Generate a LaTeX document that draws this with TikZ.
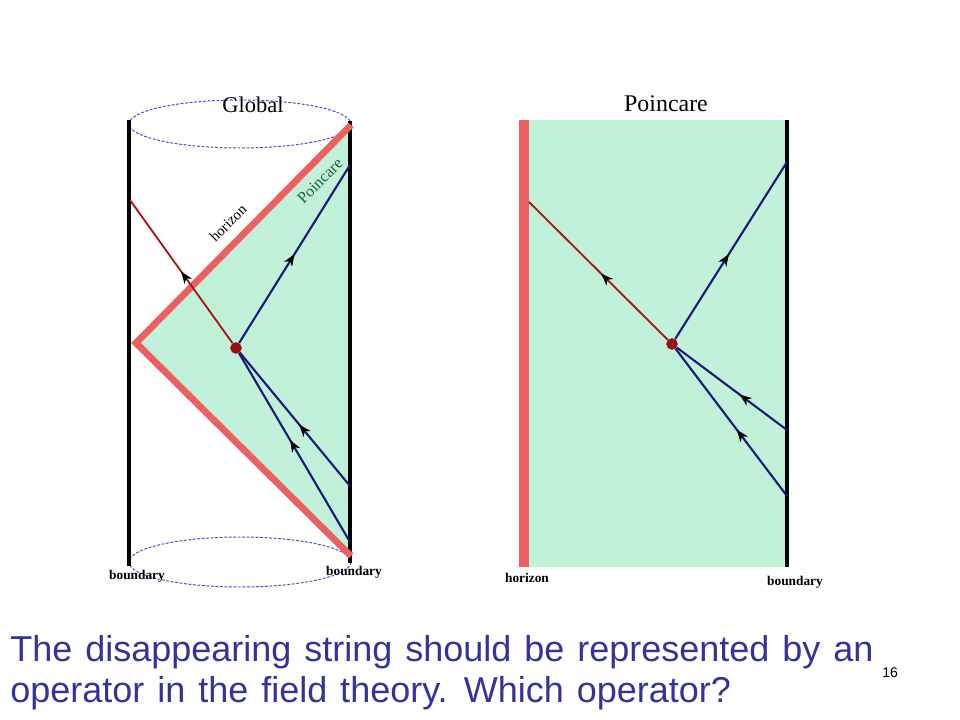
\documentclass[tikz,border=0pt]{standalone}
\usepackage{fontspec}
\setmainfont{Liberation Serif}
\setsansfont{Liberation Sans}
\usetikzlibrary{arrows.meta,decorations.markings}

\definecolor{mint}{RGB}{193,241,216}
\definecolor{horizonred}{RGB}{236,96,96}
\definecolor{stringred}{RGB}{168,20,20}
\definecolor{stringblue}{RGB}{25,25,120}
\definecolor{rimblue}{RGB}{70,70,215}
\definecolor{slideblue}{RGB}{51,51,153}
\definecolor{labelgreen}{RGB}{30,100,55}

\tikzset{
  strand/.style={line width=1.5pt,draw=#1},
  midarrow/.style={postaction={decorate},
    decoration={markings,mark=at position #1 with {\arrow[black]{Stealth[length=8.5pt,width=6.5pt,inset=2.5pt]}}}},
  joint/.style={circle,fill=stringred!90!black,inner sep=0pt,minimum size=8pt},
  rim/.style={draw=rimblue,dashed,line width=0.7pt,dash pattern=on 2pt off 1.2pt},
  tag/.style={font=\fontsize{9.5}{10}\selectfont\bfseries},
  slide/.style={anchor=base west,text=slideblue,inner sep=0pt,
    font=\sffamily\fontsize{25.6}{29}\selectfont,
    execute at begin node={\spaceskip=0.36em\relax}},
}

\begin{document}
\begin{tikzpicture}[x=0.025cm,y=-0.025cm]
\useasboundingbox (0,0) rectangle (960,720);
\coordinate (gl-top) at (129,120);
\coordinate (gl-bot) at (129,566);
\coordinate (gr-top) at (350,121);
\coordinate (gr-bot) at (350,563);
\coordinate (h-top) at (351,125);
\coordinate (h-tip) at (136,343);
\coordinate (h-bot) at (351,556);
\coordinate (g-red) at (130,200);
\coordinate (g-up) at (350,165);
\coordinate (g-in1) at (350,486);
\coordinate (g-in2) at (350,542);

% the mint Poincare patch
\fill[mint] (h-top) -- (h-tip) -- (h-bot) -- cycle;
% the two rims of the cylinder
\draw[rim] (240,124) ellipse [x radius=111,y radius=24];
\draw[rim] (240,562) ellipse [x radius=111,y radius=25];
% the boundaries
\draw[line width=2.8pt] (gl-top) -- (gl-bot);
\draw[line width=2.8pt] (gr-top) -- (gr-bot);
% the horizon
\draw[horizonred,line width=4.8pt,line join=miter] (h-top) -- (h-tip) -- (h-bot);
% the strings
\node[joint] (gdot) at (236,348) {};
\draw[strand=stringred,line width=1.3pt,midarrow=0.5] (gdot) -- (g-red);
\draw[strand=stringblue,midarrow=0.5] (gdot) -- (g-up);
\draw[strand=stringblue,midarrow=0.46] (g-in1) -- (gdot);
\draw[strand=stringblue,midarrow=0.54] (g-in2) -- (gdot);
\node[joint] at (gdot) {};

\coordinate (p-red) at (529,202);
\coordinate (p-up) at (787,162);
\coordinate (p-in1) at (787,430);
\coordinate (p-in2) at (787,496);

% the Poincare strip
\fill[mint] (524,120) rectangle (787,567);
\fill[horizonred] (519,120) rectangle (529,567);
\draw[line width=2.8pt] (787,120) -- (787,567);
\node[joint] (pdot) at (672,344) {};
\draw[strand=stringred,line width=1.3pt,midarrow=0.48] (pdot) -- (p-red);
\draw[strand=stringblue,midarrow=0.48] (pdot) -- (p-up);
\draw[strand=stringblue,midarrow=0.43] (p-in1) -- (pdot);
\draw[strand=stringblue,midarrow=0.45] (p-in2) -- (pdot);
\node[joint] at (pdot) {};

% titles
\node[font=\fontsize{16}{17}\selectfont] (global) at (253,105) {Global};
\node[font=\fontsize{17}{18}\selectfont] (poincare) at (666,104) {Poincare};
\node[rotate=45,font=\fontsize{10.5}{11}\selectfont] (horizon-lbl) at (228,223) {horizon};
\node[rotate=45,text=labelgreen,font=\fontsize{11.5}{12}\selectfont] (poincare-lbl) at (320,181) {Poincare};
% labels under the diagrams
\foreach \n/\x/\y/\texto in {1/137/576/boundary,2/354/572/boundary,3/527/578/horizon,4/795/582/boundary}
{
  \node[tag] (tag\n) at (\x,\y) {\texto};
}
% the slide text
\node[slide] (line1) at (10,661) {The disappearing string should be represented by an};
\node[slide] (line2) at (10,702) {operator in the field theory. Which operator?};
\node[anchor=base west,font=\sffamily\fontsize{10}{12}\selectfont,inner sep=0pt] (page) at (882,677) {16};
\end{tikzpicture}
\end{document}
